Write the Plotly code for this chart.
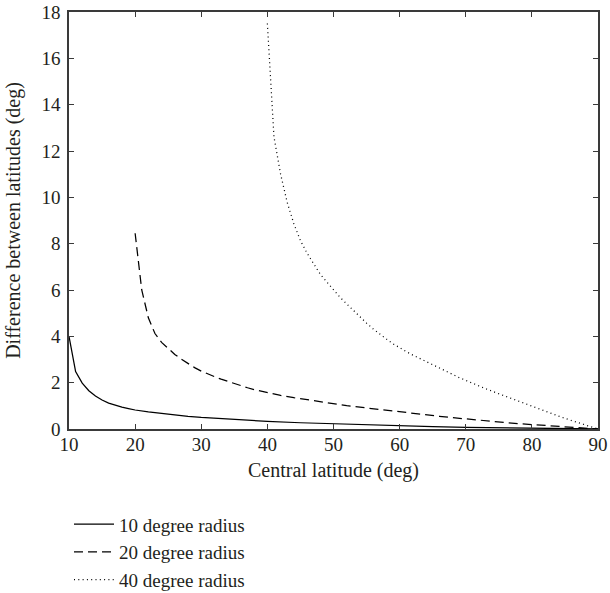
import plotly.graph_objects as go

# Central latitude (deg) and difference between latitudes (deg)
lat_10 = [10, 11, 12, 13, 14, 15, 16, 17, 18, 19, 20, 22, 24, 26, 28, 30, 32, 34, 36, 38, 40,
          45, 50, 55, 60, 65, 70, 75, 80, 85, 90]
diff_10 = [4.0, 2.48, 1.98, 1.65, 1.42, 1.25, 1.12, 1.02, 0.94, 0.88, 0.82, 0.74, 0.67, 0.61, 0.55, 0.5, 0.46, 0.43, 0.40, 0.36, 0.33,
           0.27, 0.22, 0.17, 0.13, 0.1, 0.07, 0.05, 0.03, 0.015, 0.0]

lat_20 = [20, 21, 22, 23, 24, 25, 26, 27, 28, 29, 30, 31, 32, 33, 34, 35, 36, 37, 38, 39, 40,
          42, 44, 46, 48, 50, 52, 54, 56, 58, 60, 62, 64, 66, 68, 70, 72, 74, 76, 78, 80, 82, 84, 86, 88, 90]
diff_20 = [8.45, 6.0, 4.8, 4.12, 3.74, 3.46, 3.22, 3.01, 2.82, 2.65, 2.5, 2.37, 2.26, 2.15, 2.05, 1.95, 1.86, 1.78, 1.70, 1.63, 1.57,
           1.45, 1.35, 1.26, 1.17, 1.08, 1.01, 0.94, 0.87, 0.81, 0.74, 0.68, 0.62, 0.55, 0.49, 0.43, 0.38, 0.33, 0.28, 0.23, 0.19, 0.15, 0.11, 0.07, 0.035, 0.0]

lat_40 = [40, 41, 42, 43, 44, 45, 46, 47, 48, 49, 50, 51, 52, 53, 54, 55, 56, 57, 58, 59, 60,
          61, 62, 63, 64, 65, 66, 67, 68, 69, 70, 71, 72, 73, 74, 75, 76, 77, 78, 79, 80,
          81, 82, 83, 84, 85, 86, 87, 88, 89, 90]
diff_40 = [17.5, 12.6, 11.0, 9.78, 8.86, 8.13, 7.59, 7.13, 6.68, 6.34, 6.01, 5.68, 5.40, 5.12, 4.83, 4.57, 4.32, 4.09, 3.88, 3.68, 3.50,
           3.34, 3.19, 3.05, 2.90, 2.76, 2.62, 2.48, 2.35, 2.22, 2.10, 1.97, 1.85, 1.74, 1.63, 1.52, 1.41, 1.30, 1.19, 1.08, 0.97,
           0.87, 0.77, 0.66, 0.56, 0.46, 0.36, 0.27, 0.18, 0.09, 0.0]

series_names = ["10 degree radius", "20 degree radius", "40 degree radius"]

x_ticks = [10, 20, 30, 40, 50, 60, 70, 80, 90]
y_ticks = [0, 2, 4, 6, 8, 10, 12, 14, 16, 18]

FONT = "Liberation Serif, Times New Roman, Times, DejaVu Serif, serif"
FS_TICK = 19
FS = 20
FS_LEG = 19
AX = "#3a3a3a"
TXT = "#231f20"

fig = go.Figure()
for xs, ys, name, dash, grp in [
    (lat_10, diff_10, series_names[0], "solid", "a"),
    (lat_20, diff_20, series_names[1], "9px,5px", "b"),
    (lat_40, diff_40, series_names[2], "1px,3.3px", "c"),
]:
    fig.add_trace(go.Scatter(x=xs, y=ys, mode="lines", name=name, legendgroup=grp,
                             line=dict(color="black", width=1.25, dash=dash)))

axis_common = dict(
    showline=True, linecolor=AX, linewidth=1.5, mirror="ticks",
    ticks="inside", ticklen=5, tickwidth=1.2, tickcolor=AX,
    showgrid=False, zeroline=False, ticklabeloverflow="allow", automargin=False,
    tickfont=dict(family=FONT, size=FS_TICK, color=TXT),
)

fig.update_layout(
    width=610, height=593,
    margin=dict(l=69, r=12, t=12, b=164, autoexpand=False),
    paper_bgcolor="white", plot_bgcolor="white",
    font=dict(family=FONT, size=FS, color=TXT),
    xaxis=dict(range=[10, 90], tickvals=x_ticks, ticklabelstandoff=-3,
               title=dict(text="Central latitude (deg)", standoff=9,
                          font=dict(family=FONT, size=FS, color=TXT)),
               **axis_common),
    yaxis=dict(range=[0, 18], tickvals=y_ticks, ticklabelstandoff=3,
               title=dict(text="Difference between latitudes (deg)",
                          font=dict(family=FONT, size=FS, color=TXT)),
               **axis_common),
    showlegend=True,
    legend=dict(x=0.0, xanchor="left", y=-0.183, yanchor="top",
                font=dict(family=FONT, size=FS_LEG, color=TXT),
                itemwidth=40, tracegroupgap=0, bgcolor="rgba(0,0,0,0)",
                traceorder="normal"),
)

fig.write_html("out.html", config={"displayModeBar": False},
               post_script="document.body.style.margin='0';")
